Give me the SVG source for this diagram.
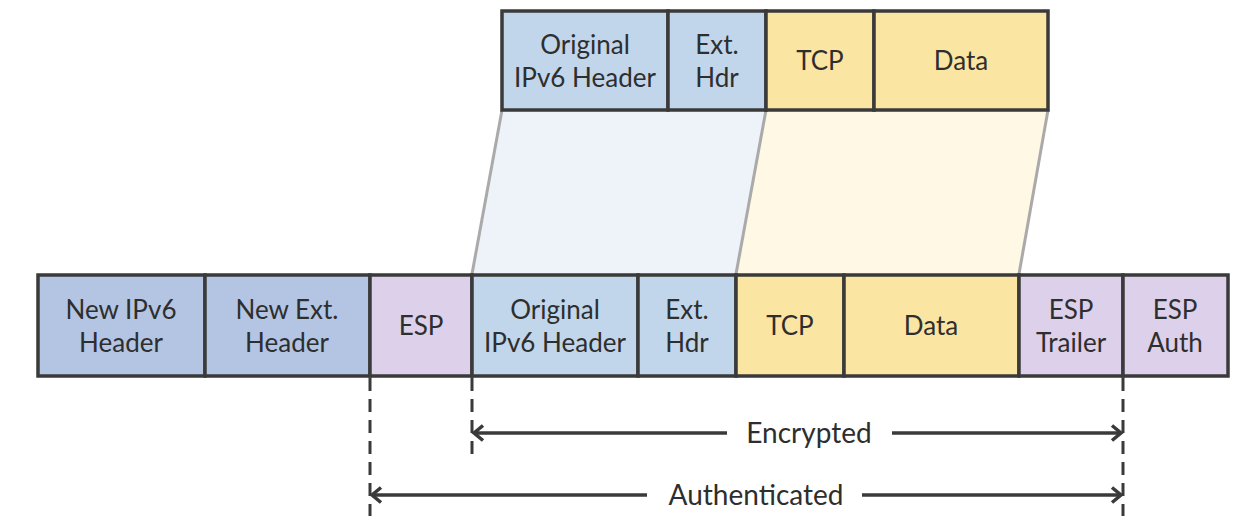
<svg xmlns="http://www.w3.org/2000/svg" width="1258" height="520" viewBox="0 0 1258 520">
<style>
.box{stroke:#3a3a3a;stroke-width:3.5}
.blue{fill:#c2d6eb}
.nblue{fill:#b4c5e3}
.yel{fill:#fbe5a2}
.esp{fill:#ddd0ea}
text{font-family:Lato,"Noto Sans",sans-serif;font-size:26px;fill:#2e2e2e;text-anchor:middle}
.big{font-size:28px}
.slant{stroke:#aaaaaa;stroke-width:3;fill:none}
.dash{stroke:#3a3a3a;stroke-width:3;stroke-dasharray:13 8;fill:none}
.arr{stroke:#3a3a3a;stroke-width:3.5;fill:none}
</style>
<defs>
<marker id="ah" markerWidth="14" markerHeight="18" refX="11" refY="9" orient="auto-start-reverse" markerUnits="userSpaceOnUse">
<polyline points="2,1.5 11,9 2,16.5" fill="none" stroke="#3a3a3a" stroke-width="3.5"/>
</marker>
</defs>
<g id="connectors">
<polygon points="502,110 766,110 736,274 472,274" fill="#eef3fa"/>
<polygon points="766,110 1048,110 1019,274 736,274" fill="#fef8e5"/>
<line class="slant" x1="502" y1="110" x2="472" y2="274"/>
<line class="slant" x1="766" y1="110" x2="736" y2="274"/>
<line class="slant" x1="1048" y1="110" x2="1019" y2="274"/>
<line class="dash" x1="370" y1="378" x2="370" y2="516"/>
<line class="dash" x1="472" y1="378" x2="472" y2="454"/>
<line class="dash" x1="1123" y1="378" x2="1123" y2="516"/>
<line class="arr" x1="474" y1="433" x2="727" y2="433" marker-start="url(#ah)"/>
<line class="arr" x1="892" y1="433" x2="1121" y2="433" marker-end="url(#ah)"/>
<line class="arr" x1="372" y1="495" x2="647" y2="495" marker-start="url(#ah)"/>
<line class="arr" x1="862" y1="495" x2="1121" y2="495" marker-end="url(#ah)"/>
<text class="big" x="809" y="443">Encrypted</text>
<text class="big" x="756" y="505">Authenticated</text>
</g>
<g id="top-orig-ipv6"><rect class="box blue" x="502" y="11" width="166" height="99"/><text x="585" y="54">Original</text><text x="585" y="87">IPv6 Header</text></g>
<g id="top-ext-hdr"><rect class="box blue" x="668" y="11" width="98" height="99"/><text x="717" y="54">Ext.</text><text x="717" y="87">Hdr</text></g>
<g id="top-tcp"><rect class="box yel" x="766" y="11" width="108" height="99"/><text x="820" y="70">TCP</text></g>
<g id="top-data"><rect class="box yel" x="874" y="11" width="174" height="99"/><text x="961" y="70">Data</text></g>
<g id="new-ipv6"><rect class="box nblue" x="38" y="275" width="167" height="101"/><text x="121" y="319">New IPv6</text><text x="121" y="352">Header</text></g>
<g id="new-ext"><rect class="box nblue" x="205" y="275" width="165" height="101"/><text x="287" y="319">New Ext.</text><text x="287" y="352">Header</text></g>
<g id="esp"><rect class="box esp" x="370" y="275" width="102" height="101"/><text x="421" y="335">ESP</text></g>
<g id="orig-ipv6"><rect class="box blue" x="472" y="275" width="166" height="101"/><text x="555" y="319">Original</text><text x="555" y="352">IPv6 Header</text></g>
<g id="ext-hdr"><rect class="box blue" x="638" y="275" width="98" height="101"/><text x="687" y="319">Ext.</text><text x="687" y="352">Hdr</text></g>
<g id="tcp"><rect class="box yel" x="736" y="275" width="108" height="101"/><text x="790" y="335">TCP</text></g>
<g id="data"><rect class="box yel" x="844" y="275" width="175" height="101"/><text x="931" y="335">Data</text></g>
<g id="esp-trailer"><rect class="box esp" x="1019" y="275" width="104" height="101"/><text x="1071" y="319">ESP</text><text x="1071" y="352">Trailer</text></g>
<g id="esp-auth"><rect class="box esp" x="1123" y="275" width="105" height="101"/><text x="1175" y="319">ESP</text><text x="1175" y="352">Auth</text></g>
</svg>
